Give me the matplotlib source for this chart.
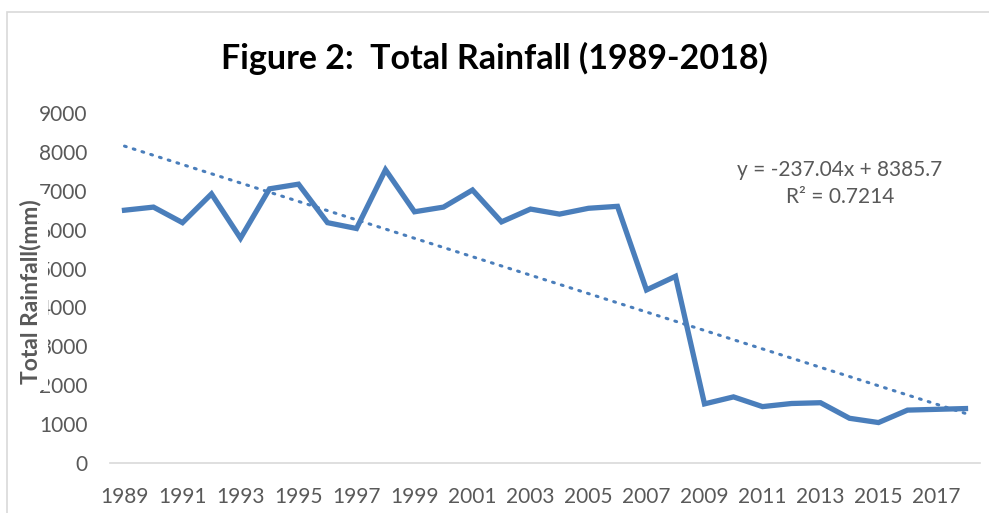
import matplotlib
matplotlib.use("Agg")
import matplotlib.pyplot as plt
from matplotlib.patches import Rectangle

# rainfall totals per year (mm)
years = list(range(1989, 2019))
rainfall = [6500, 6580, 6180, 6920, 5780, 7050, 7170, 6180, 6030, 7540,
            6460, 6580, 7020, 6200, 6530, 6400, 6550, 6600, 4450, 4800,
            1520, 1700, 1450, 1530, 1550, 1150, 1040, 1360, 1380, 1400]
xticks = list(range(1989, 2018, 2))
yticks = list(range(0, 10000, 1000))
slope, intercept = -237.04, 8385.7

body = 'Lato'
grey = '#595959'
blue = '#4a7ebb'

fig = plt.figure(figsize=(9.89, 5.13), dpi=100)
ax = fig.add_axes([110/989, 50/513, 870/989, 350/513])

# chart frame
fig.patches.append(Rectangle((7/989, -0.1), 2, 1.1 - 12/513, transform=fig.transFigure,
                             fill=False, edgecolor='#d9d9d9', lw=1.2, clip_on=False))

ax.plot(years, rainfall, color=blue, lw=3.8, solid_joinstyle='miter')
trend = [slope * (i + 1) + intercept for i in range(len(years))]
ax.plot(years, trend, color=blue, lw=2.2, linestyle=(0, (0.6, 2.4)), dash_capstyle='round')

ax.set_xlim(1988.5, 2018.5)
ax.set_ylim(0, 9000)
ax.set_xticks(xticks)
ax.set_yticks(yticks)
ax.tick_params(length=0, colors=grey, labelsize=15)
ax.tick_params(axis='y', pad=16)
ax.tick_params(axis='x', pad=17)
for lab in ax.get_xticklabels() + ax.get_yticklabels():
    lab.set_family(body)
for s in ['top', 'right', 'left']:
    ax.spines[s].set_visible(False)
ax.spines['bottom'].set_color('#d9d9d9')
ax.spines['bottom'].set_linewidth(1.2)

fig.text(0.5, 1 - 58/513, 'Figure 2:  Total Rainfall (1989-2018)', ha='center', va='center',
         fontsize=24.5, fontweight='bold', family=body)
# axis title sits over the tick labels and hides their first digit, as in the original
fig.text(31/989, 1 - 292/513, 'Total Rainfall(mm)', rotation=90, ha='center', va='center',
         fontsize=16.5, fontweight='bold', color=grey, family=body, zorder=5,
         bbox=dict(boxstyle='square,pad=0.25', facecolor='white', edgecolor='none'))
fig.text(840/989, 1 - 170/513, 'y = -237.04x + 8385.7', ha='center', va='center',
         fontsize=15, color=grey, family=body)
fig.text(840/989, 1 - 197/513, 'R² = 0.7214', ha='center', va='center',
         fontsize=15, color=grey, family=body)

fig.savefig('out.png', dpi=100)
